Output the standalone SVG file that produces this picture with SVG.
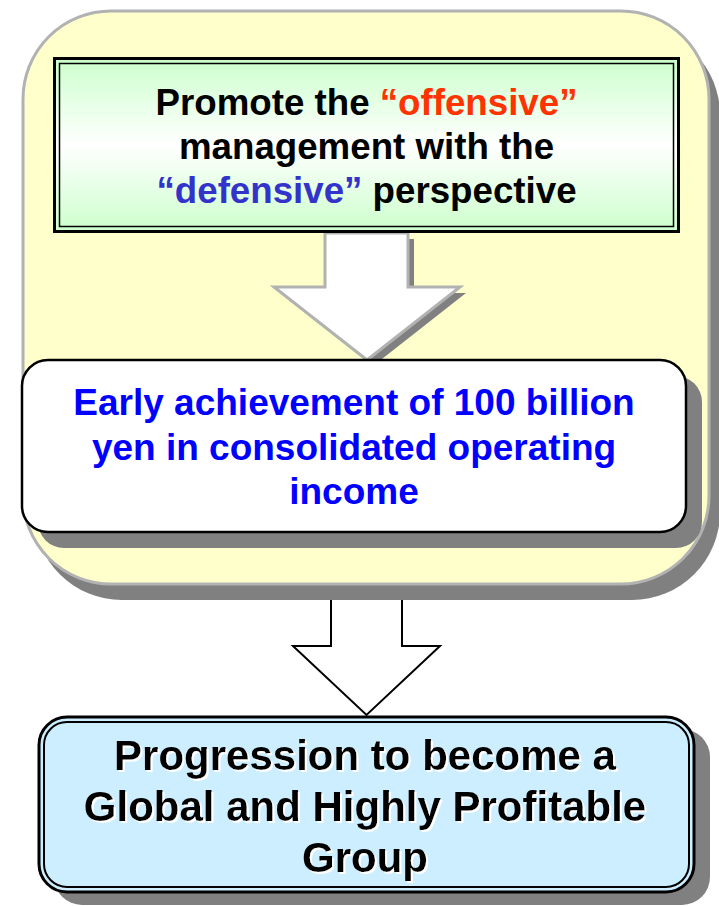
<svg xmlns="http://www.w3.org/2000/svg" width="719" height="906" viewBox="0 0 719 906">
  <style>
    .t { font-family: "Liberation Sans", Arial, sans-serif; font-weight: bold; text-anchor: middle; }
    .shadow { fill: #808080; }
  </style>
  <defs>
    <linearGradient id="greenGrad" x1="0" y1="0" x2="0" y2="1">
      <stop offset="0" stop-color="#ccffcc"/>
      <stop offset="0.5" stop-color="#ffffff"/>
      <stop offset="1" stop-color="#ccffcc"/>
    </linearGradient>
    <filter id="emboss" x="-5%" y="-20%" width="110%" height="140%">
      <feFlood flood-color="#ffffff" result="white"/>
      <feComposite in="white" in2="SourceAlpha" operator="in" result="whiteText"/>
      <feOffset in="whiteText" dx="2" dy="2" result="off"/>
      <feMerge>
        <feMergeNode in="off"/>
        <feMergeNode in="SourceGraphic"/>
      </feMerge>
    </filter>
  </defs>

  <g id="connectors">
    <g id="arrow2">
      <polygon points="331,596 402,596 402,646 440,646 366.5,715 293,646 331,646" fill="#ffffff" stroke="#000000" stroke-width="2" stroke-linejoin="miter"/>
    </g>
  </g>

  <g id="outer-panel">
    <rect class="shadow" x="34" y="27" width="686" height="573" rx="88" ry="88"/>
    <rect x="23" y="11" width="686" height="573" rx="88" ry="88" fill="#ffffcc" stroke="#b2b2b2" stroke-width="3"/>
  </g>

  <g id="connectors-inner">
    <g id="arrow1">
      <polygon class="shadow" points="331,239 414,239 414,293 466,293 373,366 280,293 331,293"/>
      <polygon points="325,233 408,233 408,287 460,287 367,360 274,287 325,287" fill="#ffffff" stroke="#b2b2b2" stroke-width="3" stroke-linejoin="miter"/>
    </g>
  </g>

  <g id="node-promote">
    <rect x="54.5" y="58.5" width="624" height="173" fill="url(#greenGrad)" stroke="#000000" stroke-width="3"/>
    <rect x="59.5" y="63.5" width="614" height="163" fill="none" stroke="#000000" stroke-width="1.5"/>
    <text class="t" x="366.5" y="115" font-size="36.7"><tspan fill="#000000">Promote the </tspan><tspan fill="#ff3300">“offensive”</tspan></text>
    <text class="t" x="366.5" y="159" font-size="36.7" fill="#000000">management with the</text>
    <text class="t" x="366.5" y="203" font-size="36.7"><tspan fill="#3333cc">“defensive”</tspan><tspan fill="#000000"> perspective</tspan></text>
  </g>

  <g id="node-early">
    <rect class="shadow" x="38" y="376" width="664" height="172" rx="26" ry="26"/>
    <rect x="22" y="360" width="664" height="172" rx="26" ry="26" fill="#ffffff" stroke="#000000" stroke-width="2.5"/>
    <text class="t" x="354" y="415" font-size="37" fill="#0000ff">Early achievement of 100 billion</text>
    <text class="t" x="354" y="459.5" font-size="37" fill="#0000ff">yen in consolidated operating</text>
    <text class="t" x="354" y="504" font-size="37" fill="#0000ff">income</text>
  </g>

  <g id="node-progression">
    <rect class="shadow" x="54" y="729" width="656" height="176" rx="28" ry="28"/>
    <rect x="39" y="717" width="655" height="175" rx="28" ry="28" fill="#cdeeff" stroke="#000000" stroke-width="3"/>
    <rect x="44" y="722" width="645" height="165" rx="23" ry="23" fill="none" stroke="#000000" stroke-width="2"/>
    <g fill="#000000" filter="url(#emboss)">
      <text class="t" x="365" y="770" font-size="42">Progression to become a</text>
      <text class="t" x="365" y="821" font-size="42">Global and Highly Profitable</text>
      <text class="t" x="365" y="872" font-size="42">Group</text>
    </g>
  </g>
</svg>
